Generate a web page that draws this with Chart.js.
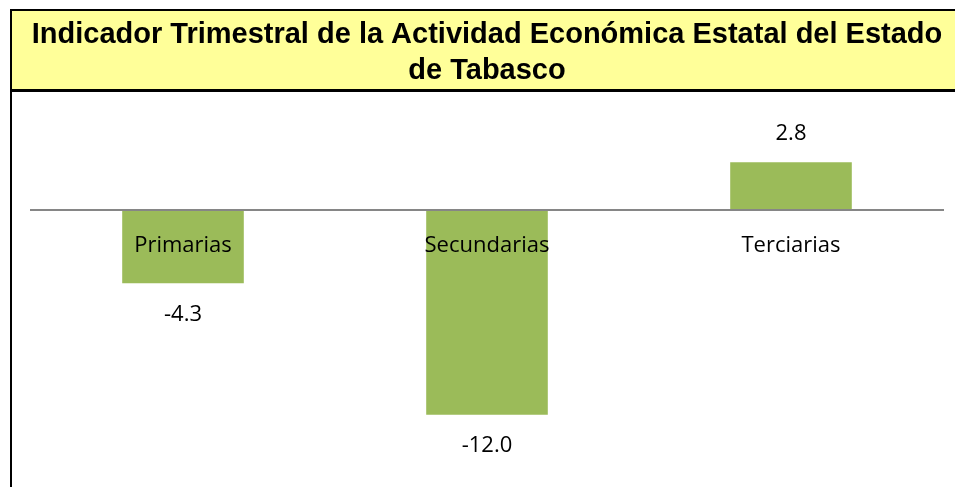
<!DOCTYPE html>
<html>
<head>
<meta charset="utf-8">
<script src="https://cdn.jsdelivr.net/npm/chart.js@4"></script>
<style>
  body { margin: 0; background: #fff; }
  canvas { display: block; }
</style>
</head>
<body>
<canvas id="itaeeChart" width="955" height="487"></canvas>
<script>
const titleLines = ['Indicador Trimestral de la Actividad Económica Estatal del Estado', 'de Tabasco'];
const sectores = ['Primarias', 'Secundarias', 'Terciarias'];
const variacion = [-4.3, -12.0, 2.8];

// yellow title box with the black frame
const titleBox = {
    id: 'titleBox',
    beforeDraw(chart) {
        const ctx = chart.ctx;
        ctx.save();
        ctx.fillStyle = '#FFFF99';
        ctx.fillRect(12, 11, chart.width - 12, 78);
        ctx.fillStyle = '#000';
        ctx.fillRect(10, 9, chart.width - 10, 2);
        ctx.fillRect(10, 89, chart.width - 10, 3);
        ctx.fillRect(10, 9, 2, chart.height - 9);
        ctx.restore();
    }
};

// value labels above / below the bars
const valueLabels = {
    id: 'valueLabels',
    afterDatasetsDraw(chart) {
        const ctx = chart.ctx;
        const meta = chart.getDatasetMeta(0);
        ctx.save();
        ctx.font = '22px "Open Sans"';
        ctx.fillStyle = '#000';
        ctx.textAlign = 'center';
        ctx.textBaseline = 'middle';
        meta.data.forEach((bar, i) => {
            const v = variacion[i];
            const y = v >= 0 ? bar.y - 28 : bar.y + 31;
            ctx.fillText(v.toFixed(1), bar.x, y);
        });
        ctx.restore();
    }
};

new Chart(document.getElementById('itaeeChart').getContext('2d'), {
    type: 'bar',
    data: {
        labels: sectores,
        datasets: [
            {
                label: 'Variación',
                data: variacion,
                backgroundColor: '#9BBB59',
                borderWidth: 0,
                categoryPercentage: 1,
                barPercentage: 0.4
            }
        ]
    },
    options: {
        responsive: false,
        animation: false,
        layout: {
            padding: { top: 11, left: 31, right: 12, bottom: 38 }
        },
        plugins: {
            legend: { display: false },
            tooltip: { enabled: false },
            title: {
                display: true,
                text: titleLines,
                color: '#000',
                font: { family: '"Liberation Sans", Arial', size: 29, weight: 'bold', lineHeight: 1.25 },
                padding: { top: 6, bottom: 18 }
            }
        },
        scales: {
            x: {
                position: { y: 0 },
                grid: { display: false, drawTicks: false },
                border: { display: true, color: '#868686', width: 2, z: 1 },
                ticks: {
                    z: 1,
                    color: '#000',
                    padding: 23,
                    font: { family: '"Open Sans"', size: 22 }
                }
            },
            y: {
                display: false,
                min: -14,
                max: 6
            }
        }
    },
    plugins: [titleBox, valueLabels]
});
</script>
</body>
</html>
